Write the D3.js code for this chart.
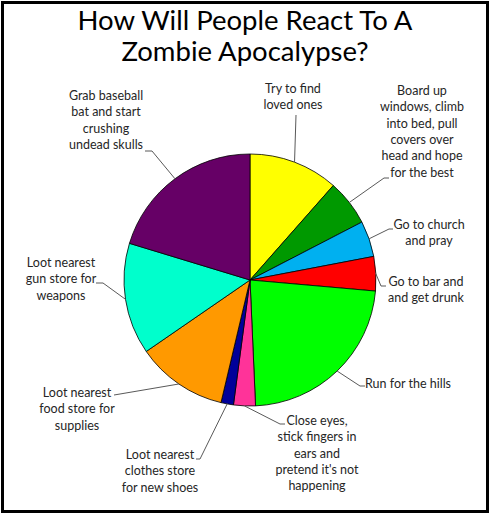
<!DOCTYPE html>
<html>
<head>
<meta charset="utf-8">
<script src="https://cdn.jsdelivr.net/npm/d3@7"></script>
<style>
  body { margin: 0; background: #fff; }
  svg text { font-family: Lato, "Open Sans", sans-serif; }
</style>
</head>
<body>
<svg id="chart"></svg>
<script>
const width = 490;
const height = 514;

// 資料: 各反應的比例 (從圖上估計的百分比)
const categories = [
  'Try to find loved ones',
  'Board up windows, climb into bed, pull covers over head and hope for the best',
  'Go to church and pray',
  'Go to bar and and get drunk',
  'Run for the hills',
  "Close eyes, stick fingers in ears and pretend it's not happening",
  'Loot nearest clothes store for new shoes',
  'Loot nearest food store for supplies',
  'Loot nearest gun store for weapons',
  'Grab baseball bat and start crushing undead skulls'
];
const values = [11.5, 5.9, 4.6, 4.4, 22.9, 2.8, 1.6, 11.7, 14.3, 20.3];
// 標籤換行 (照原圖)
const labelLines = [
  ['Try to find', 'loved ones'],
  ['Board up', 'windows, climb', 'into bed, pull', 'covers over', 'head and hope', 'for the best'],
  ['Go to church', 'and pray'],
  ['Go to bar and', 'and get drunk'],
  ['Run for the hills'],
  ['Close eyes,', 'stick fingers in', 'ears and', "pretend it's not", 'happening'],
  ['Loot nearest', 'clothes store', 'for new shoes'],
  ['Loot nearest', 'food store for', 'supplies'],
  ['Loot nearest', 'gun store for', 'weapons'],
  ['Grab baseball', 'bat and start', 'crushing', 'undead skulls']
];
const titleLines = ['How Will People React To A', 'Zombie Apocalypse?'];

const colors = ['#ffff00', '#009900', '#00b0f0', '#ff0000', '#00ff00',
                '#ff3399', '#000099', '#ff9900', '#00ffcc', '#660066'];

// 標籤擺放位置 (x中心, 第一行 baseline y, 引線的轉折點)
const labelLayout = [
  { x: 293, y: 93,  elbow: null, start: [296, 115] },
  { x: 422, y: 95,  elbow: [384, 178], start: [389, 178] },
  { x: 429, y: 229, elbow: [389, 229], start: [393, 229] },
  { x: 426, y: 286, elbow: [381, 286], start: [386, 286] },
  { x: 408, y: 388, elbow: [360, 386], start: [365, 386] },
  { x: 317, y: 425, elbow: [280, 424], start: [285, 424] },
  { x: 160, y: 459, elbow: [200, 459], start: [196, 459] },
  { x: 77,  y: 397, elbow: [120, 394], start: [114, 395] },
  { x: 61,  y: 267, elbow: [103, 283], start: [96, 283] },
  { x: 106, y: 100, elbow: [152, 151], start: [145, 151] }
];

const cx = 250, cy = 280, radius = 126;

const svg = d3.select('#chart')
  .attr('width', width)
  .attr('height', height);

// 外框
svg.append('rect')
  .attr('x', 2.5).attr('y', 2.5)
  .attr('width', width - 5).attr('height', height - 5)
  .attr('fill', '#fff')
  .attr('stroke', '#000')
  .attr('stroke-width', 3);

// 標題
svg.append('text')
  .attr('x', 245)
  .attr('text-anchor', 'middle')
  .attr('font-size', 27.5)
  .attr('fill', '#000')
  .selectAll('tspan')
  .data(titleLines)
  .join('tspan')
  .attr('x', 245)
  .attr('y', (d, i) => 30 + i * 31)
  .text(d => d);

const pie = d3.pie().sort(null).value(d => d);
const arcs = pie(values);
const arc = d3.arc().innerRadius(0).outerRadius(radius);

const g = svg.append('g').attr('transform', `translate(${cx},${cy})`);

g.selectAll('path.slice')
  .data(arcs)
  .join('path')
  .attr('class', 'slice')
  .attr('d', arc)
  .attr('fill', (d, i) => colors[i])
  .attr('stroke', '#000')
  .attr('stroke-width', 0.8);

// 引線: 從扇形外緣中點到標籤
const edgeArc = d3.arc().innerRadius(radius).outerRadius(radius);
const leader = d3.line();

svg.append('g')
  .selectAll('path')
  .data(arcs)
  .join('path')
  .attr('fill', 'none')
  .attr('stroke', '#595959')
  .attr('stroke-width', 1)
  .attr('d', (d, i) => {
    const c = edgeArc.centroid(d);
    const p = [cx + c[0], cy + c[1]];
    const L = labelLayout[i];
    const pts = [L.start];
    if (L.elbow) pts.push(L.elbow);
    pts.push(p);
    return leader(pts);
  });

// 標籤文字
const labels = svg.append('g')
  .selectAll('text')
  .data(labelLines)
  .join('text')
  .attr('text-anchor', 'middle')
  .attr('font-size', 12.5)
  .attr('fill', '#262626');

labels.selectAll('tspan')
  .data((d, i) => d.map(t => ({ t, i })))
  .join('tspan')
  .attr('x', d => labelLayout[d.i].x)
  .attr('y', (d, j) => labelLayout[d.i].y + j * 16.3)
  .text(d => d.t);
</script>
</body>
</html>
